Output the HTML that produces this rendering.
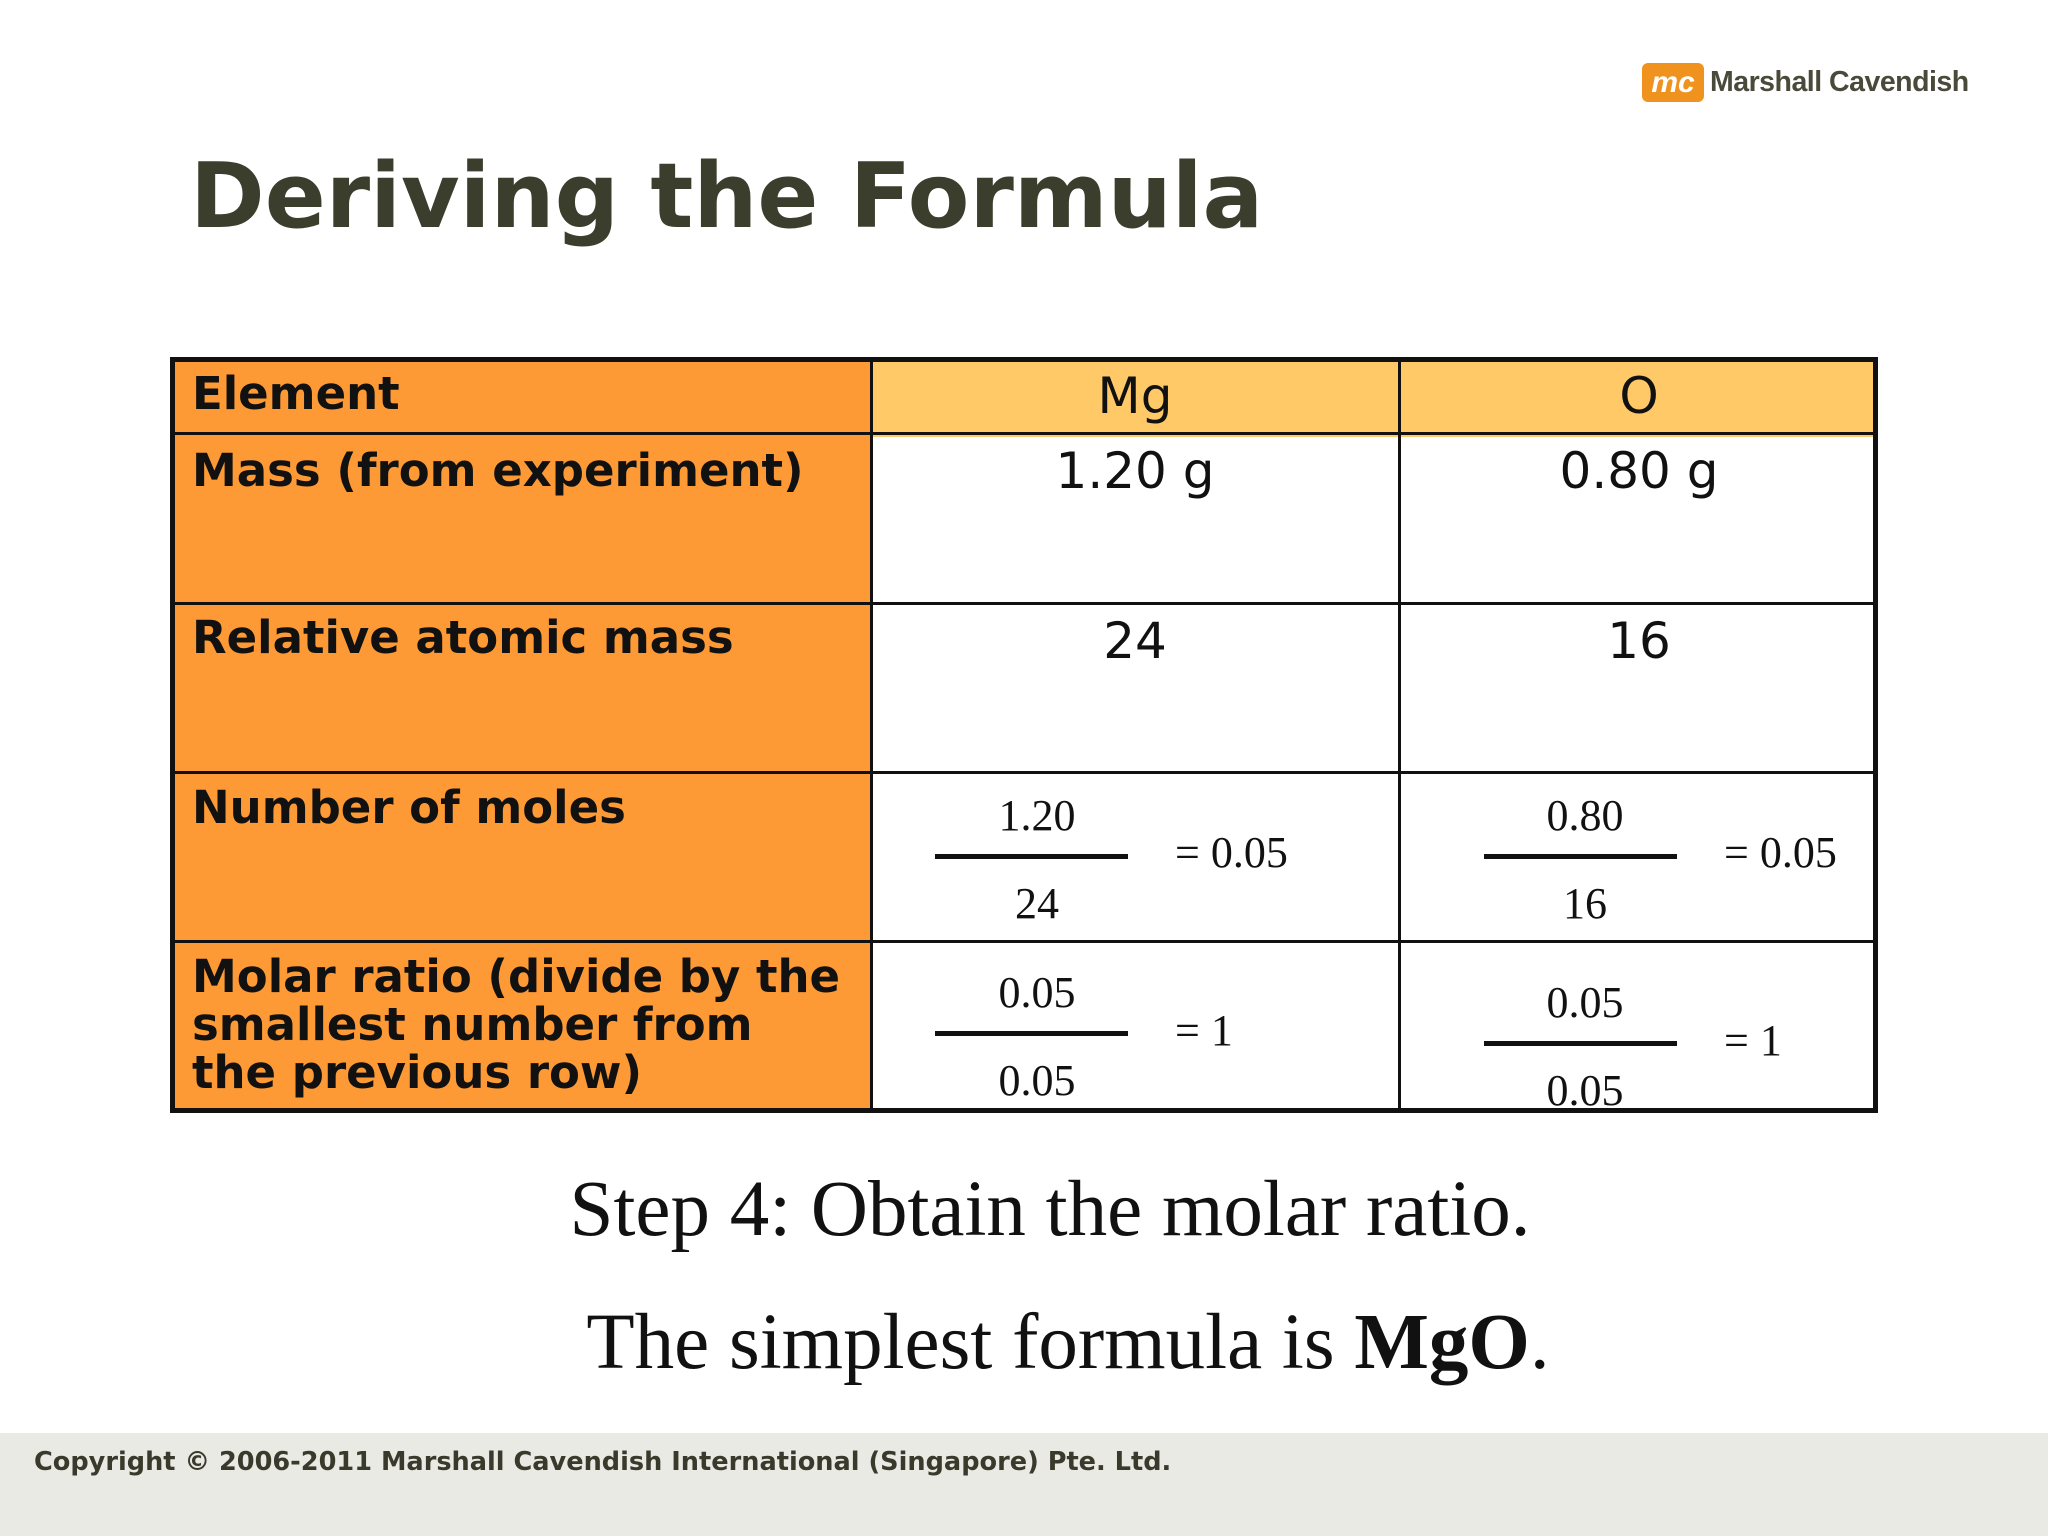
<!DOCTYPE html>
<html><head><meta charset="utf-8"><style>
body{margin:0;width:2048px;height:1536px;background:#fff;position:relative;overflow:hidden;font-family:"DejaVu Sans","Liberation Sans",sans-serif}
.a{position:absolute;white-space:nowrap;line-height:1}
.lbl{font-weight:bold;font-size:45px;color:#111;left:192px}
.val{font-size:50px;color:#111;text-align:center;transform:translateX(-50%)}
.tm{font-family:"Liberation Serif",serif;font-size:44px;color:#111}
.c{transform:translateX(-50%)}
.ln{position:absolute;height:5px;background:#111}
.h{position:absolute;background:#111}
</style></head><body>
<div class="a" style="left:1642px;top:63px;height:39px;display:flex;align-items:center">
<div style="width:62px;height:39px;background:#f0931e;border-radius:6px;color:#fff;font-style:italic;font-weight:bold;font-size:30px;text-align:center;line-height:39px;font-family:'Liberation Sans',sans-serif">mc</div>
<div style="margin-left:6px;font-family:'Liberation Sans',sans-serif;font-weight:bold;font-size:28.5px;color:#4a4a3a;letter-spacing:-0.5px">Marshall Cavendish</div></div>
<div class="a" style="left:190px;top:152px;font-size:90px;font-weight:bold;color:#3b3e2c">Deriving the Formula</div>

<div style="position:absolute;left:170px;top:357px;width:1708px;height:756px;box-sizing:border-box;border:5px solid #111;background:#fff">
<div style="position:absolute;left:0;top:0;width:697px;height:100%;background:#fd9a35"></div>
<div style="position:absolute;left:697px;top:0;right:0;height:75px;background:#fec966"></div>
</div>
<div class="h" style="left:870px;top:357px;width:3px;height:756px"></div>
<div class="h" style="left:1398px;top:357px;width:3px;height:756px"></div>
<div class="h" style="left:170px;top:432px;width:1708px;height:3px"></div>
<div class="h" style="left:170px;top:602px;width:1708px;height:3px"></div>
<div class="h" style="left:170px;top:771px;width:1708px;height:3px"></div>
<div class="h" style="left:170px;top:940px;width:1708px;height:3px"></div>

<div class="a lbl" style="top:371px">Element</div>
<div class="a lbl" style="top:448px">Mass (from experiment)</div>
<div class="a lbl" style="top:615px">Relative atomic mass</div>
<div class="a lbl" style="top:785px">Number of moles</div>
<div class="a lbl" style="top:953px;line-height:48px">Molar ratio (divide by the<br>smallest number from<br>the previous row)</div>

<div class="a val" style="left:1135px;top:371px">Mg</div>
<div class="a val" style="left:1639px;top:371px">O</div>
<div class="a val" style="left:1135px;top:446px">1.20 g</div>
<div class="a val" style="left:1639px;top:446px">0.80 g</div>
<div class="a val" style="left:1135px;top:616px">24</div>
<div class="a val" style="left:1639px;top:616px">16</div>

<div class="a tm c" style="left:1037px;top:794px">1.20</div>
<div class="ln" style="left:935px;top:854px;width:193px"></div>
<div class="a tm c" style="left:1037px;top:882px">24</div>
<div class="a tm" style="left:1175px;top:831px">= 0.05</div>
<div class="a tm c" style="left:1585px;top:794px">0.80</div>
<div class="ln" style="left:1484px;top:854px;width:193px"></div>
<div class="a tm c" style="left:1585px;top:882px">16</div>
<div class="a tm" style="left:1724px;top:831px">= 0.05</div>

<div class="a tm c" style="left:1037px;top:971px">0.05</div>
<div class="ln" style="left:935px;top:1031px;width:193px"></div>
<div class="a tm c" style="left:1037px;top:1059px">0.05</div>
<div class="a tm" style="left:1175px;top:1009px">= 1</div>
<div class="a tm c" style="left:1585px;top:981px">0.05</div>
<div class="ln" style="left:1484px;top:1041px;width:193px"></div>
<div class="a tm c" style="left:1585px;top:1069px;height:40px;overflow:hidden">0.05</div>
<div class="a tm" style="left:1724px;top:1019px">= 1</div>

<div class="a tm c" style="left:1050px;top:1170px;font-size:79px">Step 4: Obtain the molar ratio.</div>
<div class="a tm c" style="left:1068px;top:1303px;font-size:79px">The simplest formula is <b>MgO</b>.</div>

<div style="position:absolute;left:0;top:1433px;width:2048px;height:103px;background:#e9eae3"></div>
<div class="a" style="left:34px;top:1450px;font-size:25.6px;font-weight:bold;color:#3a3a2c">Copyright © 2006-2011 Marshall Cavendish International (Singapore) Pte. Ltd.</div>
</body></html>
